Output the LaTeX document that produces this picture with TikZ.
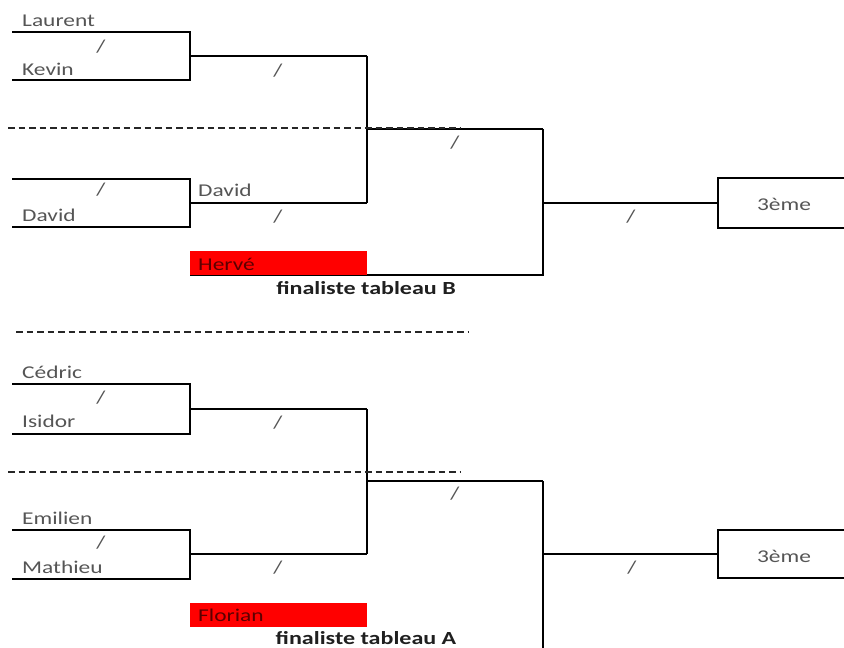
\documentclass[tikz,border=0pt]{standalone}
\usepackage{fontspec}
\setmainfont{Carlito}[FakeStretch=1.3]
\definecolor{namegray}{HTML}{555555}
\definecolor{herve}{HTML}{5C0000}
\definecolor{boxred}{HTML}{FF0000}
\definecolor{darktxt}{HTML}{1F1F1F}
\begin{document}
\begin{tikzpicture}[x=1bp,y=-1bp,
  bline/.style={draw=black,line width=1.4bp},
  sepline/.style={draw=black!85,line width=1.2bp,dash pattern=on 6.5bp off 4bp},
  pname/.style={anchor=base west,inner sep=0,text=namegray,font=\fontsize{18bp}{20bp}\selectfont},
  slash/.style={inner sep=0,text=namegray,font=\fontsize{18bp}{20bp}\selectfont},
  redbox/.style={fill=boxred,draw=none},
  redname/.style={anchor=base west,inner sep=0,text=herve,font=\fontsize{18bp}{20bp}\selectfont},
  finaltxt/.style={anchor=base,inner sep=0,text=darktxt,font=\fontsize{18.5bp}{20bp}\selectfont\bfseries},
  thirdtxt/.style={inner sep=0,text=namegray,font=\fontsize{18bp}{20bp}\selectfont}]
\useasboundingbox (0,0) rectangle (844,648);

% ---------------- top half (tableau B) ----------------
\coordinate (a1) at (12,32);  \coordinate (a1e) at (190,32);
\coordinate (a2) at (12,80);  \coordinate (a2e) at (190,80);
\coordinate (am) at (190,56); \coordinate (ame) at (367,56);
\draw[bline] (a1) -- (a1e) -- (a2e) -- (a2);
\draw[bline] (am) -- (ame);

\coordinate (b1) at (12,179);  \coordinate (b1e) at (190,179);
\coordinate (b2) at (12,227);  \coordinate (b2e) at (190,227);
\coordinate (bm) at (190,203); \coordinate (bme) at (367,203);
\draw[bline] (b1) -- (b1e) -- (b2e) -- (b2);
\draw[bline] (bm) -- (bme);

\draw[bline] (ame) -- (bme);
\coordinate (s1) at (367,129); \coordinate (s1e) at (543,129);
\draw[bline] (s1) -- (s1e);

\coordinate (hb) at (190,275); \coordinate (hbe) at (543,275);
\draw[bline] (s1e) -- (hbe) -- (hb);
\coordinate (f1) at (543,203); \coordinate (f1e) at (718,203);
\draw[bline] (f1) -- (f1e);
\draw[bline] (844,178) -- (718,178) -- (718,228) -- (844,228);

\draw[sepline] (8,128) -- (460,128);
\draw[sepline] (16,332) -- (468,332);

\node[pname] (laurent) at (22,27) {Laurent};
\node[pname] (kevin) at (22,76) {Kevin};
\node[slash] (sl1) at (101,47) {/};
\node[slash] (sl2) at (278,71) {/};
\node[slash] (sl3) at (101,190) {/};
\node[pname] (david1) at (22,222) {David};
\node[pname] (david2) at (198,197) {David};
\node[slash] (sl4) at (278,217) {/};
\node[slash] (sl5) at (455,143) {/};
\node[slash] (sl6) at (631,217) {/};
\node[thirdtxt] (third1) at (784,204) {3ème};
\fill[redbox] (190,251) rectangle (367,275);
\node[redname] (herve) at (198,270) {Hervé};
\node[finaltxt] (finB) at (366,294) {finaliste tableau B};

% ---------------- bottom half (tableau A) ----------------
\coordinate (c1) at (12,384);  \coordinate (c1e) at (190,384);
\coordinate (c2) at (12,434);  \coordinate (c2e) at (190,434);
\coordinate (cm) at (190,409); \coordinate (cme) at (367,409);
\draw[bline] (c1) -- (c1e) -- (c2e) -- (c2);
\draw[bline] (cm) -- (cme);

\coordinate (d1) at (12,530);  \coordinate (d1e) at (190,530);
\coordinate (d2) at (12,579);  \coordinate (d2e) at (190,579);
\coordinate (dm) at (190,554); \coordinate (dme) at (367,554);
\draw[bline] (d1) -- (d1e) -- (d2e) -- (d2);
\draw[bline] (dm) -- (dme);

\draw[bline] (cme) -- (dme);
\coordinate (s2) at (367,481); \coordinate (s2e) at (543,481);
\draw[bline] (s2) -- (s2e);
\coordinate (s2b) at (543,648);
\draw[bline] (s2e) -- (s2b);
\coordinate (f2) at (543,554); \coordinate (f2e) at (718,554);
\draw[bline] (f2) -- (f2e);
\draw[bline] (844,530) -- (718,530) -- (718,578) -- (844,578);

\draw[sepline] (8,472) -- (461,472);

\node[pname] (cedric) at (22,378) {Cédric};
\node[pname] (isidor) at (22,427) {Isidor};
\node[slash] (sl7) at (101,398) {/};
\node[slash] (sl8) at (278,423) {/};
\node[slash] (sl9) at (455,494) {/};
\node[pname] (emilien) at (22,524) {Emilien};
\node[pname] (mathieu) at (22,573) {Mathieu};
\node[slash] (sl10) at (101,543) {/};
\node[slash] (sl11) at (278,568) {/};
\node[slash] (sl12) at (632,568) {/};
\node[thirdtxt] (third2) at (784,556) {3ème};
\fill[redbox] (190,603) rectangle (367,627);
\node[redname] (florian) at (198,621) {Florian};
\node[finaltxt] (finA) at (366,644) {finaliste tableau A};
\end{tikzpicture}
\end{document}
